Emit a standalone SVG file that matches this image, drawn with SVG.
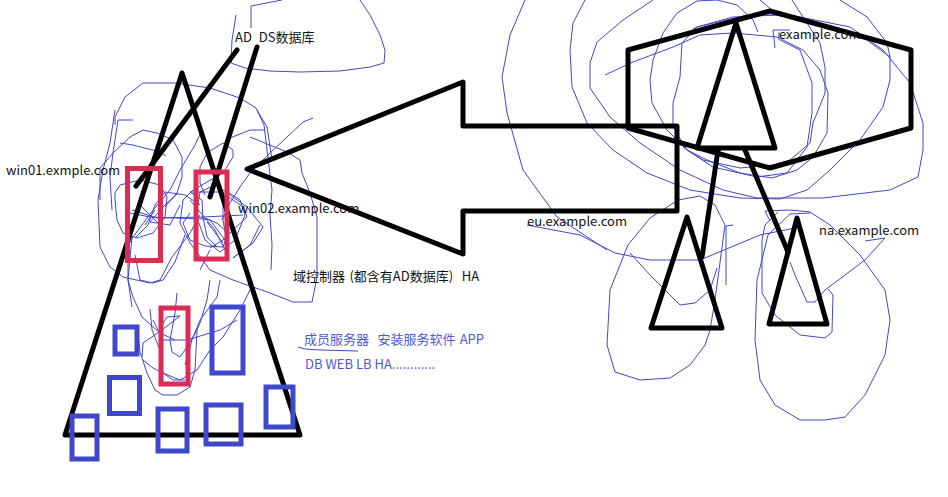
<svg xmlns="http://www.w3.org/2000/svg" width="948" height="497" viewBox="0 0 948 497">
<style>
.scribble{fill:none;stroke:#3f48cc;stroke-width:1;stroke-linejoin:round}
.thick{fill:none;stroke:#000;stroke-width:5;stroke-linejoin:round;stroke-linecap:round}
.red{fill:none;stroke:#dc2c54;stroke-width:5}
.blue{fill:none;stroke:#3f48cc;stroke-width:5}
text{font-family:"Noto Sans CJK SC","Noto Sans",sans-serif;font-size:13px;fill:#111;white-space:pre}
.member{fill:#4c5bd4}
</style>
<rect width="948" height="497" fill="#fff"/>
<g id="scribbles">
<path class="scribble" d="M236,15 L232,40 231,63 245,68 270,71 300,72 340,71 370,67 384,63 385,50 380,35 370,15 360,0"/>
<path class="scribble" d="M251,28 L251,6 282,0"/>
<path class="scribble" d="M115,125 L115,117 125,97 143,83 175,83 210,88 240,98 256,108 264,125 267,150 272,190 270,215 272,245 271,270"/>
<path class="scribble" d="M115,110 L110,143 103,170 98,200 100,247 110,267 123,277 150,283 160,280 172,257 190,233 200,215"/>
<path class="scribble" d="M133,120 L118,120 113,153 110,177 112,210"/>
<path class="scribble" d="M100,200 L100,168 113,153 130,137 143,130 157,133 173,140 182,157 182,177 177,193 165,207"/>
<path class="scribble" d="M115,200 L115,193 120,185 140,180 160,185 167,197 165,217 153,233 137,238 123,233 117,220 115,200"/>
<path class="scribble" d="M120,143 L133,145 160,152 166,156"/>
<path class="scribble" d="M132,210 L157,218 203,217 243,215"/>
<path class="scribble" d="M130,213 L150,217 203,219"/>
<path class="scribble" d="M190,192 L223,192 223,220 227,243 210,220 203,219 202,200 190,192"/>
<path class="scribble" d="M230,138 L250,130 265,130 M257,110 L267,127 272,160"/>
<path class="scribble" d="M313,118 L303,122 287,137 270,153 250,173 240,187 230,203 222,220"/>
<path class="scribble" d="M250,137 L287,152 300,160 302,173 310,193 317,217 317,277 312,302 293,302 270,293 233,280 210,270 190,243 180,223 183,200 193,190 223,173 233,157 233,150 223,143 207,153 200,167 200,183 205,195"/>
<path class="scribble" d="M202,130 L195,145 180,170 170,190 153,210 133,237 126,250"/>
<path class="scribble" d="M132,237 L128,280 132,307"/>
<path class="scribble" d="M223,190 L247,207 263,227 253,243 233,258"/>
<path class="scribble" d="M190,213 L183,223 190,240 205,246 223,247 228,233 217,223 205,218"/>
<path class="scribble" d="M223,193 L243,207 247,217 233,230 223,240 210,248"/>
<path class="scribble" d="M203,217 L207,237 217,247 M207,222 L223,243 M190,200 L215,230 225,250"/>
<path class="scribble" d="M200,205 L185,195 165,192 155,205 148,225 135,238"/>
<path class="scribble" d="M180,205 L170,225 150,222 165,205 178,193 M155,210 L145,225 M140,205 L160,225"/>
<path class="scribble" d="M215,185 L200,192 196,215 205,240 220,252 235,240 245,215 240,200 225,190"/>
<path class="scribble" d="M210,250 L200,270 M233,258 L250,245 260,225"/>
<path class="scribble" d="M177,293 L175,313 170,340 172,352 180,357 187,347 197,330"/>
<path class="scribble" d="M150,309 L152,330 160,350 163,373 173,380 185,380"/>
<path class="scribble" d="M153,320 L163,340 187,340 220,330 237,320"/>
<path class="scribble" d="M160,328 L167,317 180,316 M142,357 L143,343 162,330 180,316"/>
<path class="scribble" d="M128,250 L128,280 133,297 142,317 160,333 175,340"/>
<path class="scribble" d="M138,333 L140,352 147,373 155,390 163,395 177,395 190,387 195,370 197,330 200,323 207,300 210,280"/>
<path class="scribble" d="M220,280 L217,297 200,320 192,340 185,365"/>
<path class="scribble" d="M143,360 L153,368 163,373 180,380 197,370 210,350 223,337 240,310 250,290"/>
<path class="scribble" d="M135,255 L140,280 153,283 163,280 175,262 185,235"/>
<path class="scribble" d="M525,0 L510,35 502,77 507,113 523,170 557,217 607,250"/>
<path class="scribble" d="M585,0 L573,23 570,50 572,87 587,123 613,150 647,173 690,190 740,198 780,199 807,190 830,170 860,140 883,107 890,80 890,57 887,43 867,17 840,0"/>
<path class="scribble" d="M653,0 L623,20 597,42 590,63 590,88 610,117 640,143 680,170 723,190 757,198 823,198 890,190 918,177 923,150 923,123 910,83 883,50 850,27 790,15 747,15 697,27 693,29"/>
<path class="scribble" d="M792,0 L803,17 820,43 825,67 825,93 813,123 810,143 790,160 773,165 740,168 703,160 683,147"/>
<path class="scribble" d="M758,32 L753,20 737,5 717,0 697,1 677,13 663,33 653,60 650,80 652,103 667,130 687,150 713,167 757,177 787,173 807,147 812,113 812,83 800,50 780,40"/>
<path class="scribble" d="M605,75 L633,62 673,47 700,35 733,33 777,37 803,50 820,70 828,93 827,133 813,157 797,170 772,178 740,173 707,160 687,150 673,127 673,103 680,77 682,43 697,27 733,17 777,15 823,27 863,37 890,57"/>
<path class="scribble" d="M760,0 L772,10"/>
<path class="scribble" d="M775,48 L773,30 790,30 M779,40 L779,32"/>
<path class="scribble" d="M678,200 L650,218 628,245 610,290 607,345 615,372 640,380 670,378 690,365 705,345 710,330 715,300 725,225 715,205 700,196 678,200"/>
<path class="scribble" d="M527,225 L580,235 615,253 650,260 700,260 760,235 795,228"/>
<path class="scribble" d="M630,253 L650,275 680,305 695,303 710,290 717,268"/>
<path class="scribble" d="M733,225 L726,226 726,285"/>
<path class="scribble" d="M770,221 L765,211 790,210 810,212 830,225 860,255 885,290 890,320 885,355 865,395 845,417 825,420 800,420 775,405 760,380 755,340 757,280 768,235 790,214 810,213"/>
<path class="scribble" d="M865,241 L885,238 865,260 845,275 825,290 815,302 807,302 795,275 790,262"/>
<path class="scribble" d="M778,212 L765,225 762,240 762,293 775,315 800,335 825,338 832,332 833,295 828,289"/>
</g>
<g id="connectors">
<path class="thick" d="M237,50 L136,186"/>
<path class="thick" d="M257,47 L210,197"/>
<path class="thick" d="M718,150 L702,257"/>
<path class="thick" d="M745,150 L788,252"/>
</g>
<g id="domain-triangle"><path class="thick" d="M182,73 L65,435 L300,435 Z"/></g>
<g id="arrow"><path class="thick" d="M247,169 L463,82 L463,126 L677,126 L677,211 L463,211 L463,254 Z"/></g>
<g id="forest-hexagon"><path class="thick" d="M628,50 L770,11 L911,50 L911,128 L770,168 L628,128 Z"/></g>
<g id="root-triangle"><path class="thick" d="M736,23 L697,148 L775,148 Z"/></g>
<g id="eu-triangle"><path class="thick" d="M687,217 L651,328 L722,328 Z"/></g>
<g id="na-triangle"><path class="thick" d="M797,218 L769,324 L827,324 Z"/></g>
<g id="dc1"><rect class="red" x="127.500" y="168.500" width="33" height="92"/></g>
<g id="dc2"><rect class="red" x="196" y="172" width="31" height="87"/></g>
<g id="dc3"><rect class="red" x="161" y="308" width="27" height="76"/></g>
<g id="member1"><rect class="blue" x="115" y="327" width="22" height="27"/></g>
<g id="member2"><rect class="blue" x="109.500" y="377.500" width="30" height="36"/></g>
<g id="member3"><rect class="blue" x="72" y="416" width="25" height="43"/></g>
<g id="member4"><rect class="blue" x="158" y="409" width="29" height="42"/></g>
<g id="member5"><rect class="blue" x="206" y="405" width="35" height="39"/></g>
<g id="member6"><rect class="blue" x="266" y="387" width="27" height="40"/></g>
<g id="member7"><rect class="blue" x="212" y="307" width="31" height="66"/></g>
<g id="labels">
<text x="235" y="42" word-spacing="4">AD DS数据库</text>
<text x="6" y="175">win01.exmple.com</text>
<text x="238" y="213">win02.example.com</text>
<text x="293" y="281" word-spacing="1.500">域控制器 (都含有AD数据库)  HA</text>
<text class="member" x="304" y="344" word-spacing="1.300">成员服务器  安装服务软件 APP</text>
<path class="scribble" d="M298,347 L305,349 320,350 358,351"/>
<text class="member" x="305" y="369">DB WEB LB HA............</text>
<text x="779" y="39">example.com</text>
<text x="527" y="226">eu.example.com</text>
<text x="819" y="235">na.example.com</text>
</g>
</svg>
